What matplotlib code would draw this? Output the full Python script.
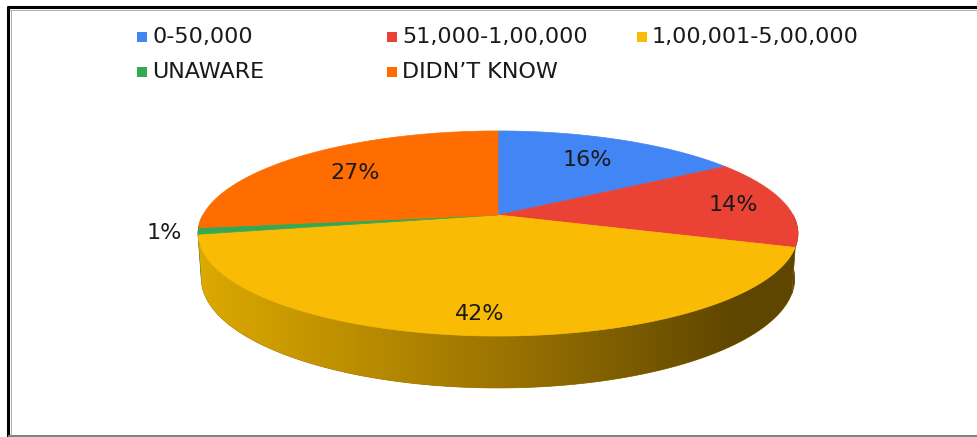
import numpy as np
import matplotlib
matplotlib.use('Agg')
import matplotlib.pyplot as plt
from matplotlib.patches import Polygon, Rectangle

# ==============================================================================
# Data
#
CATEGORIES = ['0-50,000', '51,000-1,00,000', '1,00,001-5,00,000',
              'UNAWARE', 'DIDN\u2019T KNOW']
SHARES = [16, 14, 42, 1, 27]

# ==============================================================================
# Style
#
TOP_COLORS = ['#4285f4', '#ea4335', '#f9bb04', '#34a853', '#ff6d01']
SIDE_COLORS = ['#24489a', '#5e3410', '#9c7400', '#2d8a48', '#a84600']
TEXT_COLOR = '#1a1a1a'
FONT_SIZE = 16
                                            # label radius on the top face
LABEL_RADII = [0.7, 0.82, 0.85, 1.11, 0.7]

                                            # 3D view of the pie
TILT = np.radians(20)
DISTANCE = 5.21
FX, FY = 1537, 1511
CENTER_X, CENTER_Y = 498, 215
THICKNESS = 0.163

WIDTH, HEIGHT = 978, 437


def project(theta, r=1.0, z=0.0):
    """perspective projection of a point of the pie to pixel coordinates"""
    x = r*np.sin(theta)
    y = r*np.cos(theta)
    depth = DISTANCE + y*np.cos(TILT) - z*np.sin(TILT)
    u = FX*x/depth
    v = FY*(y*np.sin(TILT) + z*np.cos(TILT))/depth
    return CENTER_X + u, CENTER_Y - v


# ==============================================================================
# Plot
#
fig = plt.figure(figsize=(WIDTH/100, HEIGHT/100), dpi=100)
ax = fig.add_axes([0, 0, 1, 1])
ax.set_xlim(0, WIDTH)
ax.set_ylim(HEIGHT, 0)
ax.axis('off')
plt.rcParams['font.family'] = ['DejaVu Sans']

                                                              # slice angles
bounds = 2*np.pi*np.concatenate([[0], np.cumsum(SHARES)])/sum(SHARES)

                                                           # front side walls
for index in range(len(SHARES)):
    start = max(bounds[index], np.pi/2)
    stop = min(bounds[index+1], 3*np.pi/2)
    if stop <= start:
        continue
    t = np.linspace(start, stop, 300)
    top_x, top_y = project(t)
    bottom_x, bottom_y = project(t[::-1], z=-THICKNESS)
    points = np.column_stack([
        np.concatenate([top_x, bottom_x]),
        np.concatenate([top_y, bottom_y])
    ])
    wall = Polygon(points, closed=True, facecolor=SIDE_COLORS[index],
                   edgecolor=SIDE_COLORS[index], linewidth=0.5, zorder=1)
    ax.add_patch(wall)
    if SHARES[index] == max(SHARES):
                                              # shading across the big wall
        xs = np.linspace(195, 805, 610)
        stops_x = [195, 500, 740]
        rgb = np.column_stack([
            np.interp(xs, stops_x, [221, 156, 94]),
            np.interp(xs, stops_x, [170, 116, 70]),
            np.interp(xs, stops_x, [0, 0, 0]),
        ])/255
        gradient = ax.imshow(rgb[np.newaxis, :, :], extent=(195, 805, 400, 200),
                             aspect='auto', zorder=2, interpolation='bilinear')
        gradient.set_clip_path(wall)

                                                                 # top face
for index in range(len(SHARES)):
    t = np.linspace(bounds[index], bounds[index+1], 300)
    rim_x, rim_y = project(t)
    points = np.column_stack([
        np.concatenate([[CENTER_X], rim_x]),
        np.concatenate([[CENTER_Y], rim_y])
    ])
    ax.add_patch(Polygon(points, closed=True, facecolor=TOP_COLORS[index],
                         edgecolor=TOP_COLORS[index], linewidth=0.5,
                         zorder=3))

                                                              # data labels
for index, share in enumerate(SHARES):
    middle = (bounds[index] + bounds[index+1])/2
    label_x, label_y = project(middle, LABEL_RADII[index])
    ax.text(label_x, label_y, '%d%%' % share, ha='center', va='center',
            fontsize=FONT_SIZE, color=TEXT_COLOR, zorder=4)

                                                                   # legend
legend_columns = [137, 387, 637]
legend_rows = [37, 72]
for index, category in enumerate(CATEGORIES):
    column_x = legend_columns[index % 3]
    row_y = legend_rows[index // 3]
    ax.add_patch(Rectangle((column_x, row_y - 5), 10, 10,
                           facecolor=TOP_COLORS[index], edgecolor='none'))
    ax.text(column_x + 15, row_y, category, ha='left', va='center',
            fontsize=FONT_SIZE, color=TEXT_COLOR)

                                                                    # frame
ax.plot([8, 8], [6, HEIGHT], color='black', linewidth=2.2,
        solid_capstyle='butt')
ax.plot([7, WIDTH], [7, 7], color='black', linewidth=2.2,
        solid_capstyle='butt')
ax.plot([10.5, 10.5], [9.5, HEIGHT], color='#b0b0b0', linewidth=0.7)
ax.plot([10, WIDTH], [9.5, 9.5], color='#b0b0b0', linewidth=0.7)
ax.plot([9, WIDTH], [435.5, 435.5], color='#808080', linewidth=1.4)

plt.savefig('out.png', dpi=100)
plt.clf()
